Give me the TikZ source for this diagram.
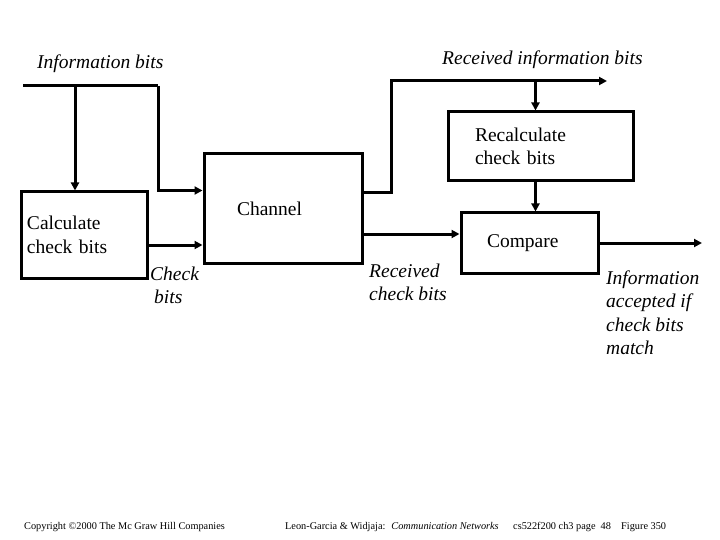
\documentclass[tikz,border=0pt]{standalone}
\usepackage{fontspec}
\setmainfont{Liberation Serif}
\usepackage{tikz}
\usetikzlibrary{arrows.meta,positioning}

\newcommand{\bigsz}{\fontsize{19.5}{23.5}\selectfont}
\newcommand{\footsz}{\fontsize{10.3}{12}\selectfont}

\tikzset{
  block/.style={draw, line width=3pt, inner ysep=0pt, align=left, font=\bigsz},
  wire/.style={line width=3pt},
  flow/.style={wire, -{Triangle[length=8pt,width=8pt]}},
  lbl/.style={font=\bigsz\itshape, align=left, inner sep=0pt, anchor=base west},
  foot/.style={font=\footsz, inner sep=0pt, anchor=base west}
}

\begin{document}
\begin{tikzpicture}[x=1pt, y=-1pt]
\useasboundingbox (0,0) rectangle (720,540);
% blocks
\node[block, text width=114pt, inner xsep=6pt, minimum height=86pt] (calc) at (84,235) {Calculate\\check bits};
\node[block, text width=92pt, inner xsep=33pt, minimum height=109pt] (channel) at (283,208.5) {Channel};
\node[block, text width=131pt, inner xsep=27pt, minimum height=69pt] (recalc) at (540.5,146.5) {Recalculate\\check bits};
\node[block, text width=85pt, inner xsep=26pt, minimum height=60pt] (compare) at (529.5,243) {Compare};
% free ends
\coordinate (infoin) at (23,86);
\coordinate (tapcalc) at (75,86);
\coordinate (bend) at (158,86);
\coordinate (rxup) at (391,81);
\coordinate (rxout) at (607,81);
\coordinate (accept) at (702,243);
% connectors
\draw[wire] (infoin) -- (bend);
\draw[flow] (tapcalc) -- (tapcalc |- calc.north);
\draw[flow] (bend) |- ([yshift=-38pt]channel.north west);
\draw[flow] ([yshift=-10pt]calc.east) -- ([yshift=-10pt]calc.east -| channel.west);
\draw[flow] ([yshift=15.5pt]channel.east) -| (rxup) -- (rxout);
\draw[flow] ([xshift=-5pt]recalc.north |- rxup) -- ([xshift=-5pt]recalc.north);
\draw[flow] ([xshift=-5pt]recalc.south) -- ([xshift=-5pt]recalc.south |- compare.north);
\draw[flow] ([yshift=-25.5pt]channel.east) -- ([yshift=-25.5pt]channel.east -| compare.west);
\draw[flow] (compare.east) -- (accept);
% labels (base = last line)
\node[lbl] (infolbl) at (37,69) {Information bits};
\node[lbl] (rxinfolbl) at (442,65) {Received information bits};
\node[lbl] (chklbl) at (150,303.5) {Check\\\hspace*{4pt}bits};
\node[lbl] (rxchklbl) at (369,300.5) {Received\\check bits};
\node[lbl] (acclbl) at (606,354.5) {Information\\accepted if\\check bits\\match};
% footer
\node[foot] (copy) at (24,529) {Copyright \textcopyright2000 The Mc Graw Hill Companies};
\node[foot] (book) at (285,529) {Leon-Garcia \& Widjaja:~ \textit{Communication Networks}};
\node[foot] (page) at (513,529) {cs522f200 ch3 page~ 48};
\node[foot] (fig) at (621,529) {Figure 350};
\end{tikzpicture}
\end{document}
